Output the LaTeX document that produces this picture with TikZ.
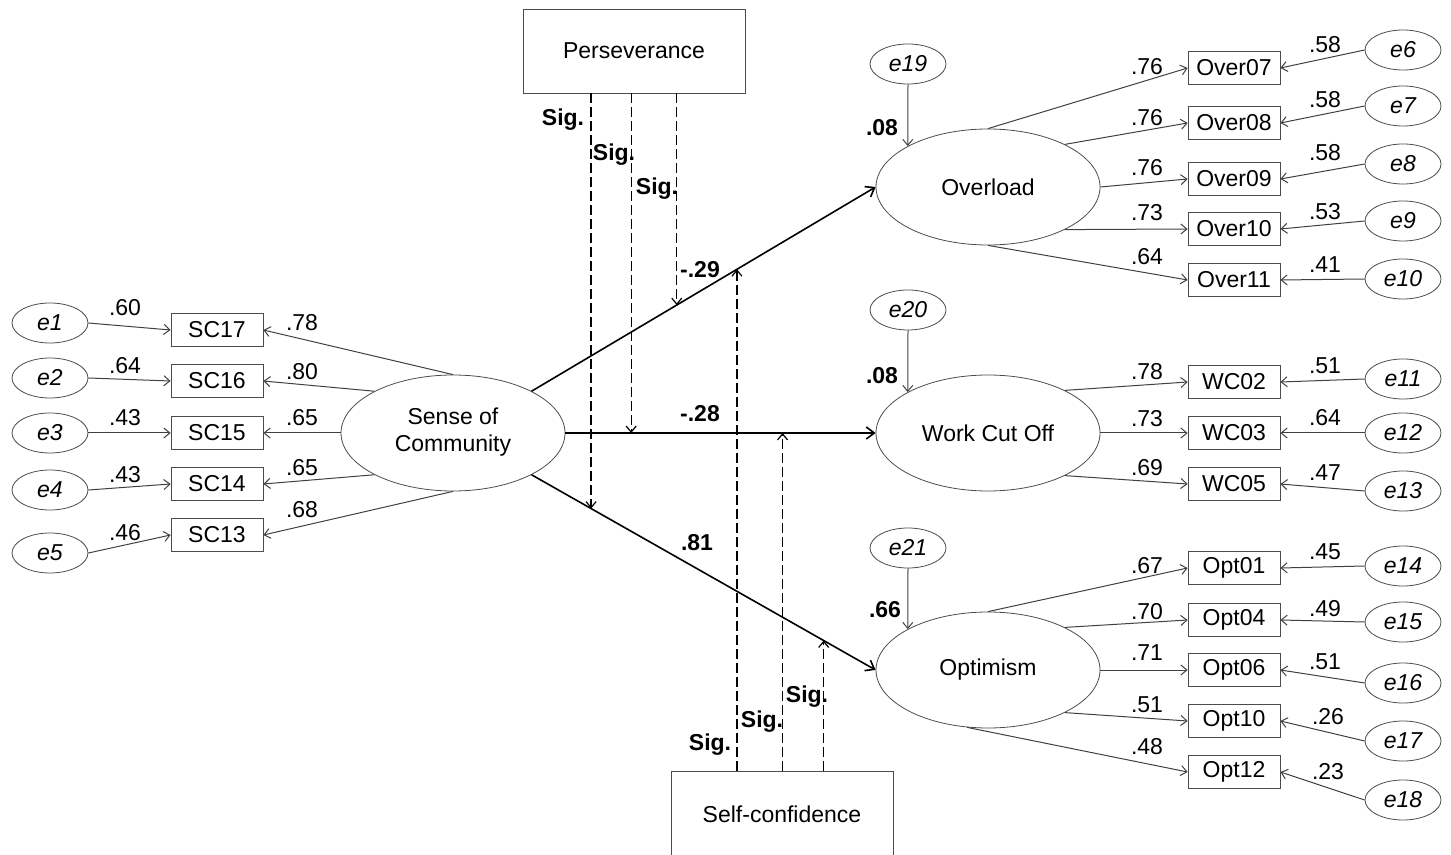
\documentclass[tikz,border=0pt]{standalone}
\usepackage{fontspec}
\setmainfont{Liberation Sans}
\usepackage{tikz}
\usetikzlibrary{arrows.meta,shapes.geometric}

\begin{document}
\fontsize{11.5}{13.5}\selectfont
\begin{tikzpicture}[x=0.5pt,y=-0.5pt]
\tikzstyle{latent}=[ellipse,draw=black!70,minimum width=112pt,minimum height=58pt,inner sep=0pt];
\tikzstyle{err}=[ellipse,draw=black!70,minimum width=38pt,minimum height=20pt,inner sep=0pt,font=\itshape];
\tikzstyle{item}=[rectangle,draw=black!70,minimum width=46pt,minimum height=16.5pt,inner sep=0pt];
\tikzstyle{modbox}=[rectangle,draw=black!70,minimum width=111pt,minimum height=42pt,inner sep=0pt];
\tikzstyle{arrow}=[-{Straight Barb[length=3pt,width=5pt]},draw=black!75,line width=0.5pt];
\tikzstyle{struct}=[-{Straight Barb[length=4pt,width=6pt]},black,line width=0.8pt];
\tikzstyle{moder}=[-{Straight Barb[length=3pt,width=5pt]},black,line width=0.6pt,dash pattern=on 5pt off 2pt];
\tikzstyle{coef}=[inner sep=0pt];
\tikzstyle{bcoef}=[inner sep=0pt,font=\bfseries];
\useasboundingbox (0,0) rectangle (1451,855);

% moderators
\node (pers) [modbox] at (634,51) {Perseverance};
\node (selfc) [modbox,minimum height=43pt] at (782,814) {Self-confidence};

% latent variables
\node (soc) [latent] at (453,433) {\begin{tabular}{@{}c@{}}Sense of\\Community\end{tabular}};
\node (over) [latent] at (988,187) {Overload};
\node (wco) [latent] at (988,433) {Work Cut Off};
\node (opt) [latent] at (988,670) {Optimism};

% sense of community items
\node (sc17) [item] at (217,330) {SC17};
\node (sc16) [item] at (217,381) {SC16};
\node (sc15) [item] at (217,433) {SC15};
\node (sc14) [item] at (217,484) {SC14};
\node (sc13) [item] at (217,535) {SC13};
\node (e1) [err] at (50,323) {e1};
\node (e2) [err] at (50,378) {e2};
\node (e3) [err] at (50,433) {e3};
\node (e4) [err] at (50,490) {e4};
\node (e5) [err] at (50,553) {e5};

% outcome items
\node (over07) [item] at (1234,68) {Over07};
\node (over08) [item] at (1234,123) {Over08};
\node (over09) [item] at (1234,179) {Over09};
\node (over10) [item] at (1234,229) {Over10};
\node (over11) [item] at (1234,280) {Over11};
\node (wc02) [item] at (1234,382) {WC02};
\node (wc03) [item] at (1234,433) {WC03};
\node (wc05) [item] at (1234,484) {WC05};
\node (opt01) [item] at (1234,568) {Opt01};
\node (opt04) [item] at (1234,620) {Opt04};
\node (opt06) [item] at (1234,670) {Opt06};
\node (opt10) [item] at (1234,721) {Opt10};
\node (opt12) [item] at (1234,772) {Opt12};
\node (e6) [err] at (1403,50) {e6};
\node (e7) [err] at (1403,106) {e7};
\node (e8) [err] at (1403,164) {e8};
\node (e9) [err] at (1403,221) {e9};
\node (e10) [err] at (1403,279) {e10};
\node (e11) [err] at (1403,379) {e11};
\node (e12) [err] at (1403,433) {e12};
\node (e13) [err] at (1403,491) {e13};
\node (e14) [err] at (1403,566) {e14};
\node (e15) [err] at (1403,622) {e15};
\node (e16) [err] at (1403,683) {e16};
\node (e17) [err] at (1403,741) {e17};
\node (e18) [err] at (1403,800) {e18};
\node (e19) [err] at (908,64) {e19};
\node (e20) [err] at (908,310) {e20};
\node (e21) [err] at (908,548) {e21};

% measurement arrows
\draw [arrow] (e1.east) -- (sc17.west);
\draw [arrow] (e2.east) -- (sc16.west);
\draw [arrow] (e3.east) -- (sc15.west);
\draw [arrow] (e4.east) -- (sc14.west);
\draw [arrow] (e5.east) -- (sc13.west);
\draw [arrow] (soc.north) -- (sc17.east);
\draw [arrow] (soc.152) -- (sc16.east);
\draw [arrow] (soc.west) -- (sc15.east);
\draw [arrow] (soc.208) -- (sc14.east);
\draw [arrow] (soc.south) -- (sc13.east);
\draw [arrow] (over.north) -- (over07.west);
\draw [arrow] (over.29) -- (over08.west);
\draw [arrow] (over.east) -- (over09.west);
\draw [arrow] (over.-29) -- (over10.west);
\draw [arrow] (over.south) -- (over11.west);
\draw [arrow] (wco.29) -- (wc02.west);
\draw [arrow] (wco.east) -- (wc03.west);
\draw [arrow] (wco.-29) -- (wc05.west);
\draw [arrow] (opt.north) -- (opt01.west);
\draw [arrow] (opt.29) -- (opt04.west);
\draw [arrow] (opt.east) -- (opt06.west);
\draw [arrow] (opt.-29) -- (opt10.west);
\draw [arrow] (opt.-110) -- (opt12.west);
\draw [arrow] (e6.west) -- (over07.east);
\draw [arrow] (e7.west) -- (over08.east);
\draw [arrow] (e8.west) -- (over09.east);
\draw [arrow] (e9.west) -- (over10.east);
\draw [arrow] (e10.west) -- (over11.east);
\draw [arrow] (e11.west) -- (wc02.east);
\draw [arrow] (e12.west) -- (wc03.east);
\draw [arrow] (e13.west) -- (wc05.east);
\draw [arrow] (e14.west) -- (opt01.east);
\draw [arrow] (e15.west) -- (opt04.east);
\draw [arrow] (e16.west) -- (opt06.east);
\draw [arrow] (e17.west) -- (opt10.east);
\draw [arrow] (e18.west) -- (opt12.east);
\draw [arrow] (e19.south) -- (over.153);
\draw [arrow] (e20.south) -- (wco.153);
\draw [arrow] (e21.south) -- (opt.153);

% structural paths
\draw [struct] (soc.28) -- coordinate[pos=0.422] (po1) coordinate[pos=0.597] (sc1) (over.west);
\draw [struct] (soc.east) -- coordinate[pos=0.212] (po2) coordinate[pos=0.70] (sc2) (wco.west);
\draw [struct] (soc.-28) -- coordinate[pos=0.173] (po3) coordinate[pos=0.849] (sc3) (opt.west);

% moderation
\draw [moder] (pers.south -| po3) -- (po3);
\draw [moder] (pers.south -| po2) -- (po2);
\draw [moder] (pers.south -| po1) -- (po1);
\draw [moder] (selfc.north -| sc1) -- (sc1);
\draw [moder] (selfc.north -| sc2) -- (sc2);
\draw [moder] (selfc.north -| sc3) -- (sc3);

% coefficients
\node (c1) [coef] at (125,308) {.60};
\node (c2) [coef] at (125,366) {.64};
\node (c3) [coef] at (125,418) {.43};
\node (c4) [coef] at (125,475) {.43};
\node (c5) [coef] at (125,533) {.46};
\node (l17) [coef] at (302,323) {.78};
\node (l16) [coef] at (302,372) {.80};
\node (l15) [coef] at (302,418) {.65};
\node (l14) [coef] at (302,468) {.65};
\node (l13) [coef] at (302,510) {.68};
\node (lo07) [coef] at (1147,67) {.76};
\node (lo08) [coef] at (1147,118) {.76};
\node (lo09) [coef] at (1147,168) {.76};
\node (lo10) [coef] at (1147,213) {.73};
\node (lo11) [coef] at (1147,257) {.64};
\node (lw02) [coef] at (1147,372) {.78};
\node (lw03) [coef] at (1147,419) {.73};
\node (lw05) [coef] at (1147,468) {.69};
\node (lp01) [coef] at (1147,566) {.67};
\node (lp04) [coef] at (1147,612) {.70};
\node (lp06) [coef] at (1147,653) {.71};
\node (lp10) [coef] at (1147,705) {.51};
\node (lp12) [coef] at (1147,747) {.48};
\node (c6) [coef] at (1325,45) {.58};
\node (c7) [coef] at (1325,100) {.58};
\node (c8) [coef] at (1325,153) {.58};
\node (c9) [coef] at (1325,212) {.53};
\node (c10) [coef] at (1325,265) {.41};
\node (c11) [coef] at (1325,366) {.51};
\node (c12) [coef] at (1325,418) {.64};
\node (c13) [coef] at (1325,473) {.47};
\node (c14) [coef] at (1325,552) {.45};
\node (c15) [coef] at (1325,609) {.49};
\node (c16) [coef] at (1325,662) {.51};
\node (c17) [coef] at (1328,717) {.26};
\node (c18) [coef] at (1328,772) {.23};
\node (r19) [bcoef] at (882,128) {.08};
\node (r20) [bcoef] at (882,376) {.08};
\node (r21) [bcoef] at (885,610) {.66};
\node (b1) [bcoef] at (700,270) {-.29};
\node (b2) [bcoef] at (700,414) {-.28};
\node (b3) [bcoef] at (697,543) {.81};
\node (s1) [bcoef] at (563,120) {Sig.};
\node (s2) [bcoef] at (614,155) {Sig.};
\node (s3) [bcoef] at (657,189) {Sig.};
\node (s4) [bcoef] at (710,745) {Sig.};
\node (s5) [bcoef] at (762,722) {Sig.};
\node (s6) [bcoef] at (807,697) {Sig.};
\end{tikzpicture}
\end{document}
